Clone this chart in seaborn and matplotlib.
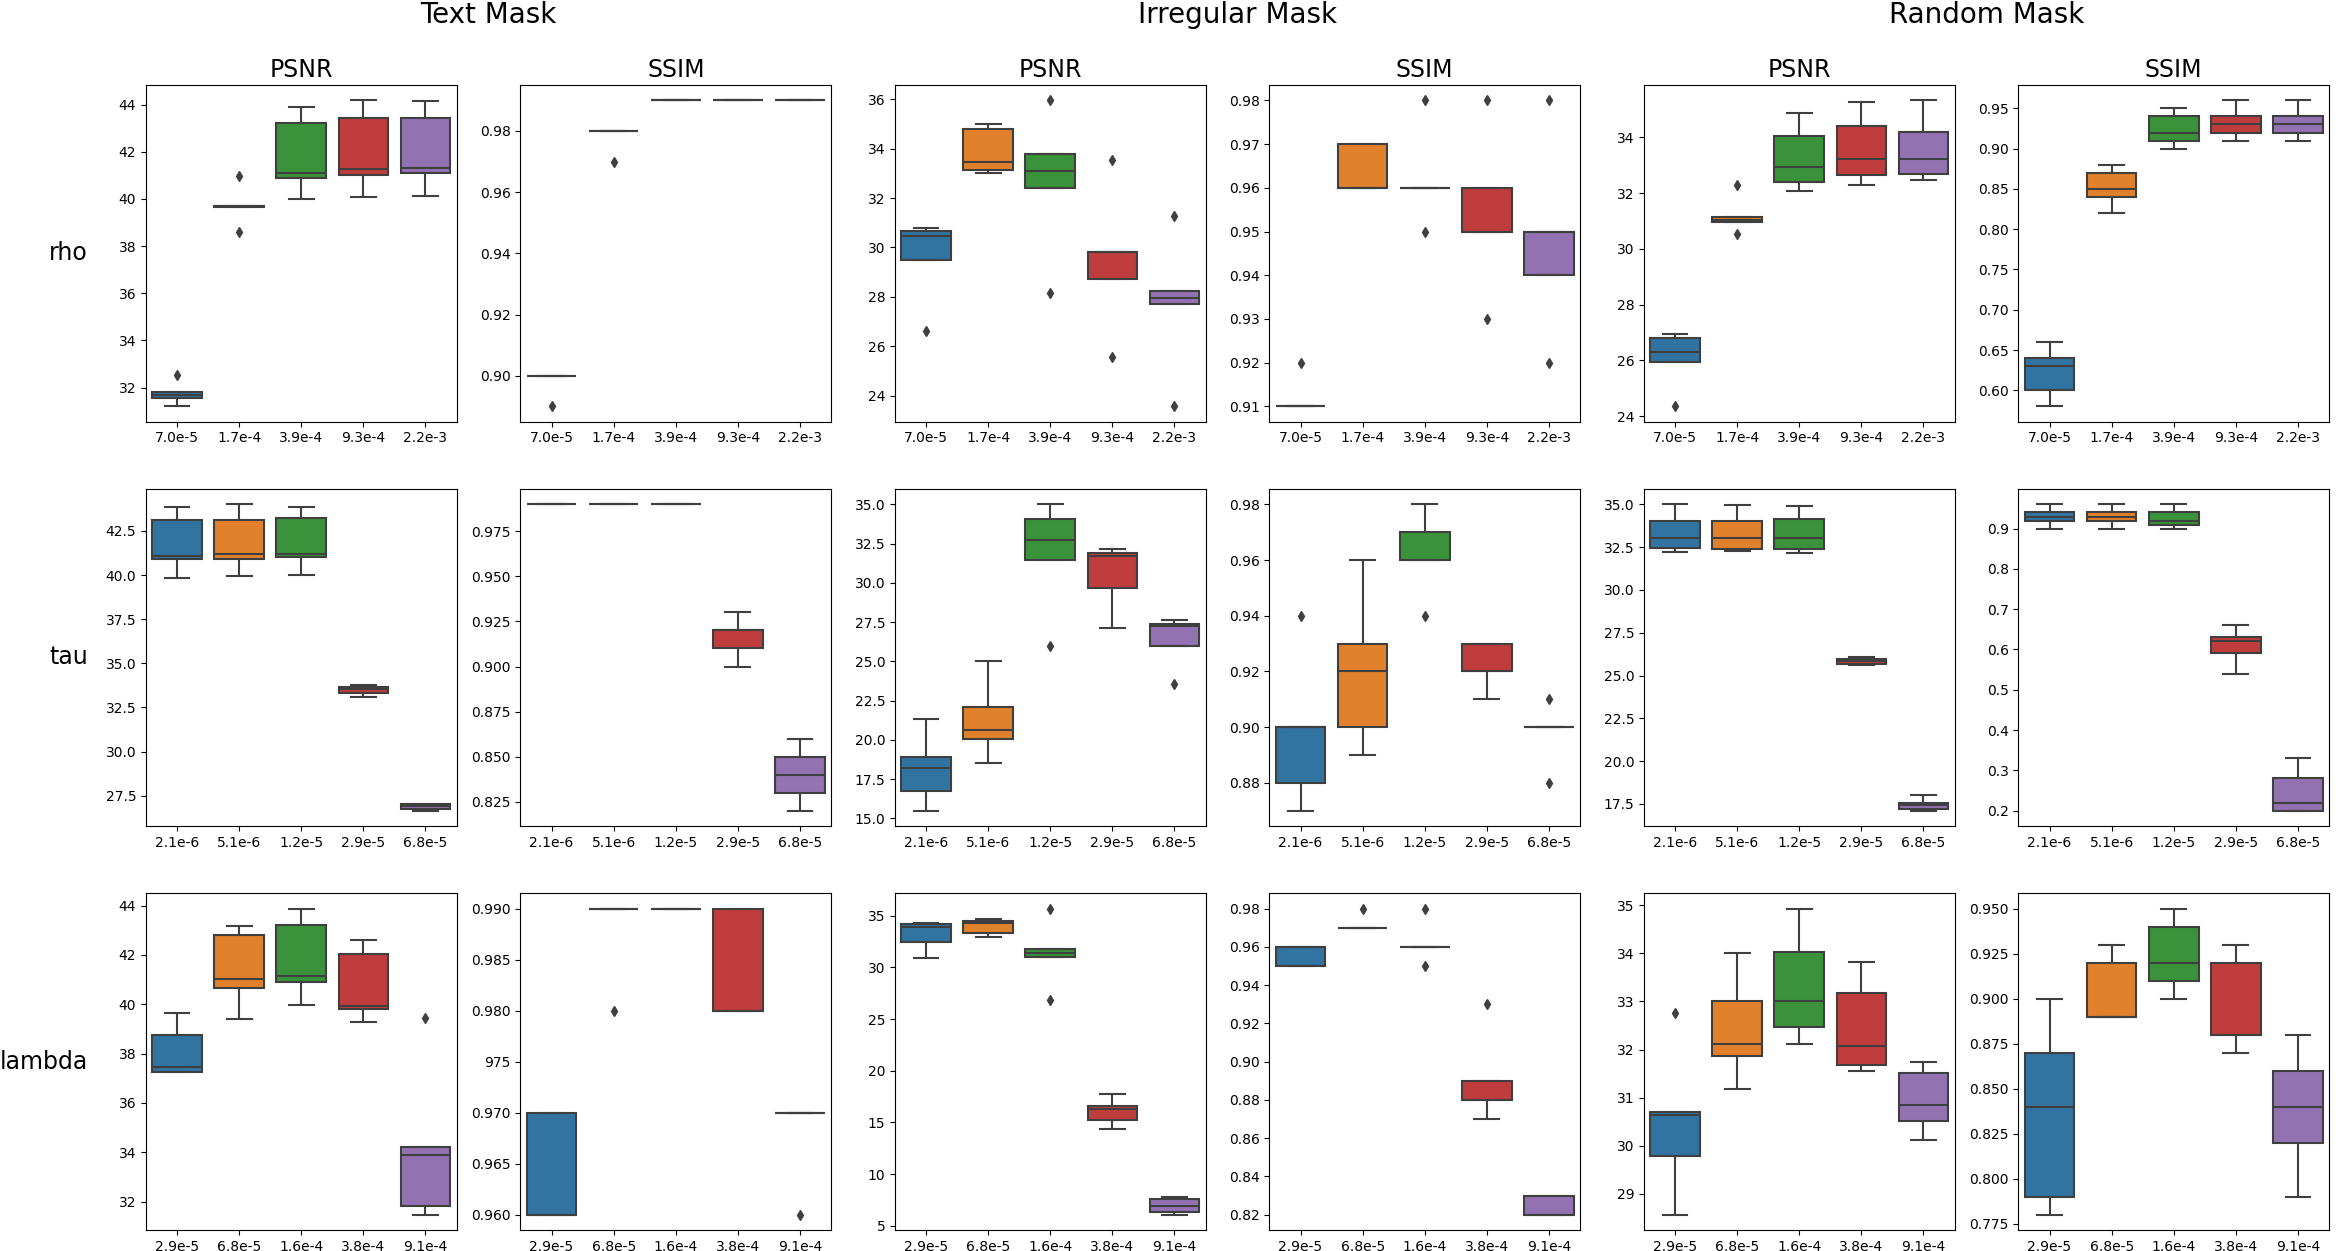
import numpy as np
import pandas as pd
import matplotlib
matplotlib.use("Agg")
import matplotlib.pyplot as plt
from matplotlib.ticker import FuncFormatter
import seaborn as sns

# ---------------- data ----------------
mask_names = ["Text Mask", "Irregular Mask", "Random Mask"]
metric_names = ["PSNR", "SSIM"]
param_names = ["rho", "tau", "lambda"]

rho_labels = ["7.0e-5", "1.7e-4", "3.9e-4", "9.3e-4", "2.2e-3"]
tau_labels = ["2.1e-6", "5.1e-6", "1.2e-5", "2.9e-5", "6.8e-5"]
lambda_labels = ["2.9e-5", "6.8e-5", "1.6e-4", "3.8e-4", "9.1e-4"]

# rho row
text_psnr_rho = [[31.20, 31.54, 31.68, 31.80, 32.54], [38.60, 39.66, 39.68, 39.70, 40.96],
                 [39.98, 40.89, 41.11, 43.21, 43.88], [40.09, 41.00, 41.27, 43.43, 44.18],
                 [40.11, 41.11, 41.29, 43.43, 44.13]]
text_ssim_rho = [[0.89, 0.90, 0.90, 0.90, 0.90], [0.97, 0.98, 0.98, 0.98, 0.98],
                 [0.99, 0.99, 0.99, 0.99, 0.99], [0.99, 0.99, 0.99, 0.99, 0.99],
                 [0.99, 0.99, 0.99, 0.99, 0.99]]
irr_psnr_rho = [[26.61, 29.49, 30.48, 30.65, 30.77], [33.02, 33.14, 33.46, 34.79, 35.01],
                [28.15, 32.39, 33.09, 33.80, 35.96], [25.56, 28.71, 29.80, 29.83, 33.53],
                [23.56, 27.70, 27.94, 28.25, 31.28]]
irr_ssim_rho = [[0.91, 0.91, 0.91, 0.91, 0.92], [0.96, 0.96, 0.96, 0.97, 0.97],
                [0.95, 0.96, 0.96, 0.96, 0.98], [0.93, 0.95, 0.95, 0.96, 0.98],
                [0.92, 0.94, 0.95, 0.95, 0.98]]
rand_psnr_rho = [[24.35, 25.95, 26.30, 26.82, 26.96], [30.54, 30.95, 31.05, 31.16, 32.29],
                 [32.08, 32.40, 32.93, 34.05, 34.89], [32.28, 32.64, 33.23, 34.41, 35.27],
                 [32.47, 32.69, 33.23, 34.20, 35.33]]
rand_ssim_rho = [[0.58, 0.60, 0.63, 0.64, 0.66], [0.82, 0.84, 0.85, 0.87, 0.88],
                 [0.90, 0.91, 0.92, 0.94, 0.95], [0.91, 0.92, 0.93, 0.94, 0.96],
                 [0.91, 0.92, 0.93, 0.94, 0.96]]

# tau row
text_psnr_tau = [[39.86, 40.90, 41.07, 43.14, 43.88], [39.95, 40.93, 41.17, 43.14, 44.00],
                 [40.00, 41.00, 41.21, 43.24, 43.88], [33.08, 33.33, 33.55, 33.67, 33.78],
                 [26.66, 26.77, 26.92, 27.04, 27.06]]
text_ssim_tau = [[0.99, 0.99, 0.99, 0.99, 0.99], [0.99, 0.99, 0.99, 0.99, 0.99],
                 [0.99, 0.99, 0.99, 0.99, 0.99], [0.90, 0.91, 0.92, 0.92, 0.93],
                 [0.82, 0.83, 0.84, 0.85, 0.86]]
irr_psnr_tau = [[15.50, 16.74, 18.22, 18.92, 21.36], [18.50, 20.08, 20.62, 22.10, 25.00],
                [26.00, 31.43, 32.74, 34.09, 35.00], [27.15, 29.65, 31.72, 31.91, 32.15],
                [23.58, 26.00, 27.23, 27.39, 27.66]]
irr_ssim_tau = [[0.87, 0.88, 0.90, 0.90, 0.94], [0.89, 0.90, 0.92, 0.93, 0.96],
                [0.94, 0.96, 0.96, 0.97, 0.98], [0.91, 0.92, 0.92, 0.93, 0.93],
                [0.88, 0.90, 0.90, 0.90, 0.91]]
rand_psnr_tau = [[32.23, 32.45, 33.04, 34.04, 35.00], [32.26, 32.38, 33.01, 34.02, 34.98],
                 [32.18, 32.38, 33.01, 34.12, 34.88], [25.64, 25.68, 25.83, 25.97, 26.07],
                 [17.11, 17.19, 17.44, 17.58, 18.01]]
rand_ssim_tau = [[0.90, 0.92, 0.93, 0.94, 0.96], [0.90, 0.92, 0.93, 0.94, 0.96],
                 [0.90, 0.91, 0.92, 0.94, 0.96], [0.54, 0.59, 0.62, 0.63, 0.66],
                 [0.20, 0.20, 0.22, 0.28, 0.33]]

# lambda row
text_psnr_lam = [[37.24, 37.26, 37.47, 38.77, 39.65], [39.39, 40.64, 41.04, 42.82, 43.19],
                 [39.95, 40.92, 41.14, 43.23, 43.88], [39.30, 39.81, 39.92, 42.04, 42.62],
                 [31.47, 31.82, 33.89, 34.22, 39.46]]
text_ssim_lam = [[0.96, 0.96, 0.96, 0.97, 0.97], [0.98, 0.99, 0.99, 0.99, 0.99],
                 [0.99, 0.99, 0.99, 0.99, 0.99], [0.98, 0.98, 0.98, 0.99, 0.99],
                 [0.96, 0.97, 0.97, 0.97, 0.97]]
irr_psnr_lam = [[30.87, 32.48, 33.86, 34.18, 34.31], [32.93, 33.31, 34.27, 34.50, 34.69],
                [26.85, 31.03, 31.35, 31.77, 35.69], [14.34, 15.21, 16.33, 16.56, 17.78],
                [6.07, 6.33, 6.95, 7.59, 7.74]]
irr_ssim_lam = [[0.95, 0.95, 0.96, 0.96, 0.96], [0.97, 0.97, 0.97, 0.97, 0.98],
                [0.95, 0.96, 0.96, 0.96, 0.98], [0.87, 0.88, 0.88, 0.89, 0.93],
                [0.82, 0.82, 0.82, 0.83, 0.83]]
rand_psnr_lam = [[28.57, 29.78, 30.65, 30.71, 32.77], [31.19, 31.86, 32.12, 33.01, 34.00],
                 [32.11, 32.47, 33.01, 34.02, 34.93], [31.55, 31.67, 32.07, 33.18, 33.81],
                 [30.12, 30.51, 30.85, 31.51, 31.75]]
rand_ssim_lam = [[0.78, 0.79, 0.84, 0.87, 0.90], [0.89, 0.89, 0.89, 0.92, 0.93],
                 [0.90, 0.91, 0.92, 0.94, 0.95], [0.87, 0.88, 0.88, 0.92, 0.93],
                 [0.79, 0.82, 0.84, 0.86, 0.88]]

grid = [
    (rho_labels, [text_psnr_rho, text_ssim_rho, irr_psnr_rho, irr_ssim_rho, rand_psnr_rho, rand_ssim_rho]),
    (tau_labels, [text_psnr_tau, text_ssim_tau, irr_psnr_tau, irr_ssim_tau, rand_psnr_tau, rand_ssim_tau]),
    (lambda_labels, [text_psnr_lam, text_ssim_lam, irr_psnr_lam, irr_ssim_lam, rand_psnr_lam, rand_ssim_lam]),
]

# ---------------- plot ----------------
W, H = 2341, 1251
fig, axes = plt.subplots(3, 6, figsize=(W / 100, H / 100), dpi=100)
fig.subplots_adjust(left=146 / W, right=2329 / W, top=1 - 85 / H, bottom=1 - 1230 / H,
                    wspace=0.206, hspace=0.2)

palette = sns.color_palette("tab10", 5)
line_gray = "#3f3f3f"

for r, (labels, panels) in enumerate(grid):
    for c, values in enumerate(panels):
        ax = axes[r, c]
        df = pd.DataFrame({
            "param": np.repeat(labels, [len(v) for v in values]),
            "value": np.concatenate([np.asarray(v, float) for v in values]),
        })
        sns.boxplot(data=df, x="param", y="value", hue="param", order=labels,
                    hue_order=labels, palette=palette, saturation=0.75, width=0.8,
                    linewidth=1.5, linecolor=line_gray, legend=False, ax=ax,
                    flierprops=dict(marker="d", markerfacecolor=line_gray,
                                    markeredgecolor=line_gray, markersize=5))
        ax.set_xlabel("")
        ax.set_ylabel("")
        ax.tick_params(labelsize=10)
        if r == 0:
            ax.set_title(metric_names[c % 2], fontsize=17)

# odd tick label seen in the reference (Text Mask / SSIM / lambda)
axes[2, 1].yaxis.set_major_formatter(
    FuncFormatter(lambda v, p: "975" if abs(v - 0.975) < 1e-9 else f"{v:.3f}"))

# mask group titles
for j, name in enumerate(mask_names):
    p0 = axes[0, 2 * j].get_position()
    p1 = axes[0, 2 * j + 1].get_position()
    fig.text((p0.x0 + p1.x1) / 2, 1 - 15 / H, name, ha="center", va="center", fontsize=20)

# row labels
for r, name in enumerate(param_names):
    p = axes[r, 0].get_position()
    fig.text(88 / W, (p.y0 + p.y1) / 2, name, ha="right", va="center", fontsize=17)

fig.savefig("out.png", dpi=100)
